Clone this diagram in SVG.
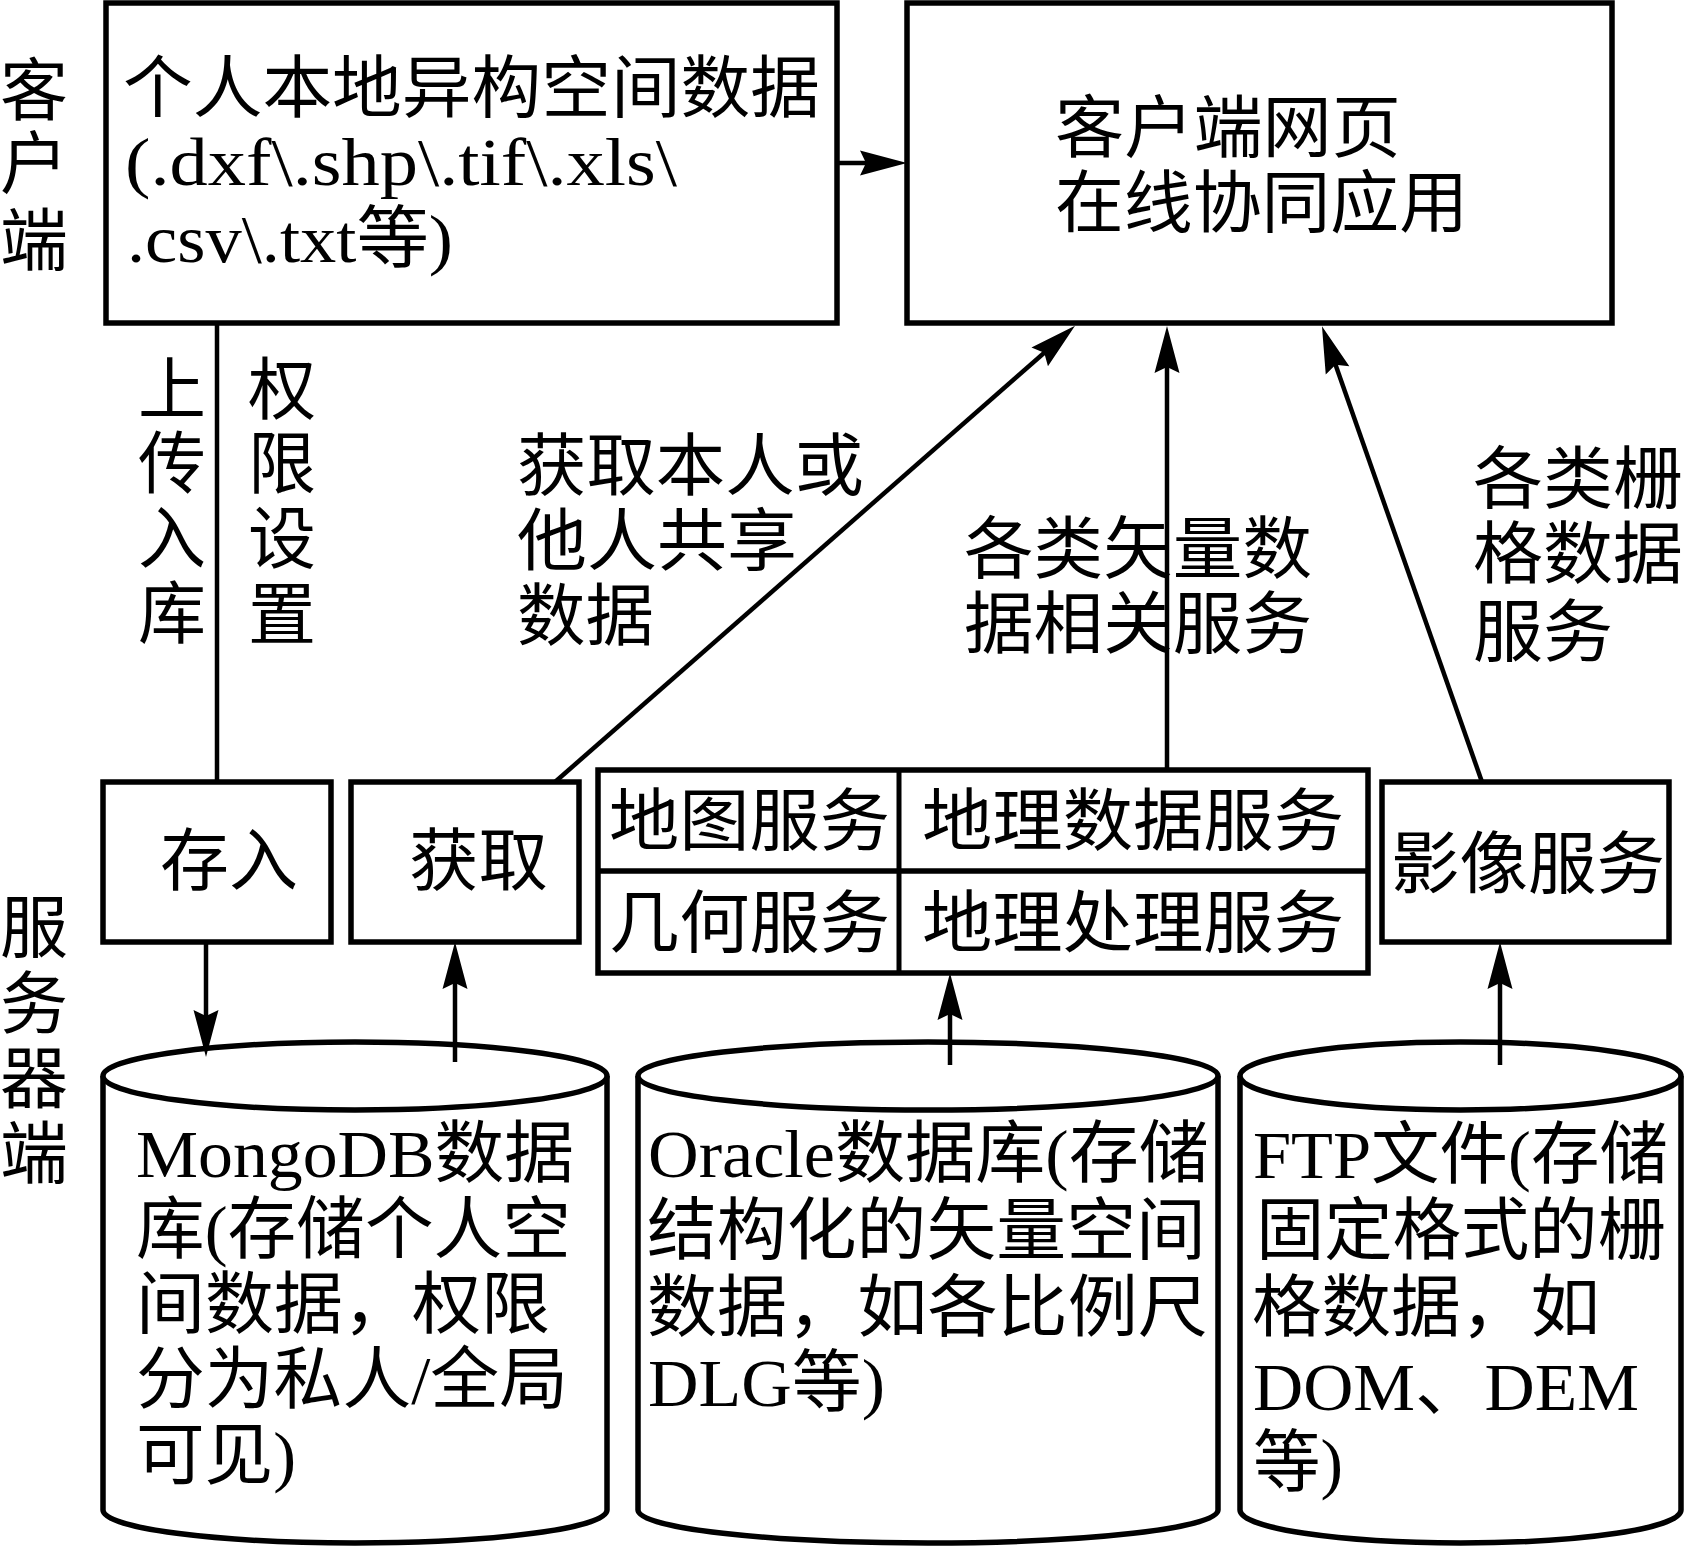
<svg xmlns="http://www.w3.org/2000/svg" width="1685" height="1547" viewBox="0 0 1685 1547">
<style>
.box{fill:#fff;stroke:#000;stroke-width:5.5}
.ln{fill:none;stroke:#000;stroke-width:4.5}
.t{font-family:"Liberation Serif","Noto Sans CJK SC",serif;font-size:68px;fill:#000}
.c{text-anchor:middle}
</style>
<defs>
<marker id="ah" markerUnits="userSpaceOnUse" markerWidth="60" markerHeight="30" viewBox="-50 -15 60 30" refX="-20" refY="0" orient="auto" overflow="visible">
<path d="M0,0 L-47,-12.5 L-41,0 L-47,12.5 Z" fill="#000"/>
</marker>
</defs>
<rect width="1685" height="1547" fill="#fff"/>

<g id="label-client">
<text class="t c" x="34" y="115">客</text>
<text class="t c" x="34" y="188">户</text>
<text class="t c" x="34" y="265">端</text>
</g>
<g id="label-server">
<text class="t c" x="34" y="952">服</text>
<text class="t c" x="34" y="1028">务</text>
<text class="t c" x="34" y="1103">器</text>
<text class="t c" x="34" y="1178">端</text>
</g>

<g id="local-data">
<rect class="box" x="106" y="3" width="731" height="320"/>
<text class="t" x="123" y="112" textLength="697" lengthAdjust="spacingAndGlyphs">个人本地异构空间数据</text>
<text class="t" x="125" y="185" textLength="552" lengthAdjust="spacingAndGlyphs">(.dxf\.shp\.tif\.xls\</text>
<text class="t" x="127" y="262" textLength="326" lengthAdjust="spacingAndGlyphs">.csv\.txt等)</text>
</g>

<g id="web-app">
<rect class="box" x="907" y="3" width="705" height="320"/>
<text class="t" x="1055" y="152" textLength="346" lengthAdjust="spacingAndGlyphs">客户端网页</text>
<text class="t" x="1055" y="227" textLength="413" lengthAdjust="spacingAndGlyphs">在线协同应用</text>
</g>

<g id="label-upload">
<text class="t c" x="172" y="414">上</text>
<text class="t c" x="172" y="488">传</text>
<text class="t c" x="172" y="563">入</text>
<text class="t c" x="172" y="638">库</text>
</g>
<g id="label-permission">
<text class="t c" x="282" y="414">权</text>
<text class="t c" x="282" y="488">限</text>
<text class="t c" x="282" y="563">设</text>
<text class="t c" x="282" y="639">置</text>
</g>
<g id="label-fetch">
<text class="t" x="517" y="490" textLength="347" lengthAdjust="spacingAndGlyphs">获取本人或</text>
<text class="t" x="517" y="565" textLength="280" lengthAdjust="spacingAndGlyphs">他人共享</text>
<text class="t" x="517" y="640" textLength="137" lengthAdjust="spacingAndGlyphs">数据</text>
</g>
<g id="label-vector">
<text class="t" x="964" y="573" textLength="348" lengthAdjust="spacingAndGlyphs">各类矢量数</text>
<text class="t" x="964" y="648" textLength="348" lengthAdjust="spacingAndGlyphs">据相关服务</text>
</g>
<g id="label-raster">
<text class="t" x="1473" y="503" textLength="210" lengthAdjust="spacingAndGlyphs">各类栅</text>
<text class="t" x="1473" y="578" textLength="210" lengthAdjust="spacingAndGlyphs">格数据</text>
<text class="t" x="1473" y="656" textLength="140" lengthAdjust="spacingAndGlyphs">服务</text>
</g>

<g id="store">
<rect class="box" x="103" y="782" width="228" height="160"/>
<text class="t" x="160" y="885" textLength="138" lengthAdjust="spacingAndGlyphs">存入</text>
</g>
<g id="fetch">
<rect class="box" x="351" y="782" width="228" height="160"/>
<text class="t" x="409" y="885" textLength="139" lengthAdjust="spacingAndGlyphs">获取</text>
</g>
<g id="services">
<rect class="box" x="598" y="770" width="770" height="203"/>
<line class="ln" x1="598" y1="871" x2="1368" y2="871" style="stroke-width:5.5"/>
<line class="ln" x1="899" y1="770" x2="899" y2="973" style="stroke-width:5"/>
<text class="t" x="609" y="845" textLength="281" lengthAdjust="spacingAndGlyphs">地图服务</text>
<text class="t" x="922" y="845" textLength="422" lengthAdjust="spacingAndGlyphs">地理数据服务</text>
<text class="t" x="609" y="947" textLength="281" lengthAdjust="spacingAndGlyphs">几何服务</text>
<text class="t" x="922" y="947" textLength="422" lengthAdjust="spacingAndGlyphs">地理处理服务</text>
</g>
<g id="image-service">
<rect class="box" x="1382" y="782" width="287" height="160"/>
<text class="t" x="1391" y="888" textLength="274" lengthAdjust="spacingAndGlyphs">影像服务</text>
</g>

<g id="mongodb">
<path class="box" d="M103,1076 L103,1510 A252,33 0 0,0 607,1510 L607,1076"/>
<ellipse class="box" cx="355" cy="1076" rx="252" ry="34"/>
<text class="t" x="136" y="1177" textLength="438" lengthAdjust="spacingAndGlyphs">MongoDB数据</text>
<text class="t" x="136" y="1253" textLength="435" lengthAdjust="spacingAndGlyphs">库(存储个人空</text>
<text class="t" x="136" y="1328" textLength="414" lengthAdjust="spacingAndGlyphs">间数据，权限</text>
<text class="t" x="136" y="1403" textLength="432" lengthAdjust="spacingAndGlyphs">分为私人/全局</text>
<text class="t" x="136" y="1479" textLength="160" lengthAdjust="spacingAndGlyphs">可见)</text>
</g>
<g id="oracle">
<path class="box" d="M638,1076 L638,1510 A290,33 0 0,0 1218,1510 L1218,1076"/>
<ellipse class="box" cx="928" cy="1076" rx="290" ry="34"/>
<text class="t" x="648" y="1177" textLength="561" lengthAdjust="spacingAndGlyphs">Oracle数据库(存储</text>
<text class="t" x="647" y="1254" textLength="559" lengthAdjust="spacingAndGlyphs">结构化的矢量空间</text>
<text class="t" x="647" y="1331" textLength="561" lengthAdjust="spacingAndGlyphs">数据，如各比例尺</text>
<text class="t" x="648" y="1406" textLength="237" lengthAdjust="spacingAndGlyphs">DLG等)</text>
</g>
<g id="ftp">
<path class="box" d="M1240,1076 L1240,1510 A220.5,33 0 0,0 1681,1510 L1681,1076"/>
<ellipse class="box" cx="1460.5" cy="1076" rx="220.5" ry="34"/>
<text class="t" x="1253" y="1178" textLength="415" lengthAdjust="spacingAndGlyphs">FTP文件(存储</text>
<text class="t" x="1256" y="1254" textLength="410" lengthAdjust="spacingAndGlyphs">固定格式的栅</text>
<text class="t" x="1252" y="1331" textLength="348" lengthAdjust="spacingAndGlyphs">格数据，如</text>
<text class="t" x="1253" y="1410" textLength="386" lengthAdjust="spacingAndGlyphs">DOM、DEM</text>
<text class="t" x="1253" y="1486" textLength="90" lengthAdjust="spacingAndGlyphs">等)</text>
</g>

<g id="connectors">
<line class="ln" x1="837" y1="163" x2="887" y2="163" marker-end="url(#ah)"/>
<line class="ln" x1="217" y1="323" x2="217" y2="782"/>
<line class="ln" x1="206" y1="942" x2="206" y2="1037" marker-end="url(#ah)"/>
<line class="ln" x1="455" y1="1062" x2="455" y2="962" marker-end="url(#ah)"/>
<line class="ln" x1="555" y1="782" x2="1060" y2="339" marker-end="url(#ah)"/>
<line class="ln" x1="1167" y1="770" x2="1167" y2="346" marker-end="url(#ah)"/>
<line class="ln" x1="1482" y1="782" x2="1328.6" y2="345" marker-end="url(#ah)"/>
<line class="ln" x1="950" y1="1065" x2="950" y2="993" marker-end="url(#ah)"/>
<line class="ln" x1="1500" y1="1065" x2="1500" y2="962" marker-end="url(#ah)"/>
</g>
</svg>
